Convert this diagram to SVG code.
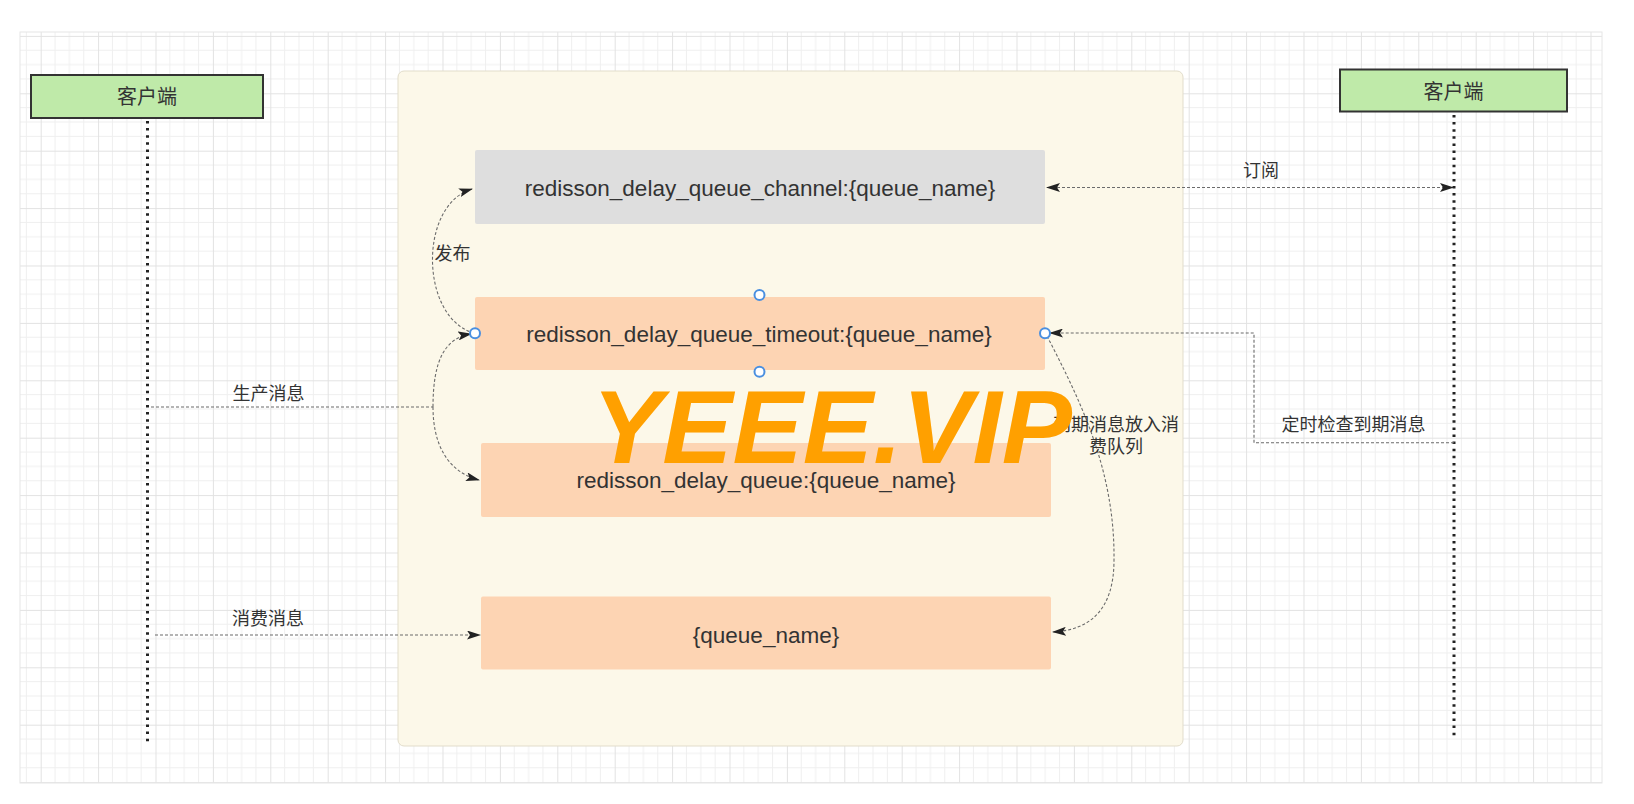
<svg xmlns="http://www.w3.org/2000/svg" width="1634" height="804" viewBox="0 0 1634 804">
<style>
.t{font-family:"Liberation Sans","Noto Sans CJK SC",Arial,sans-serif;fill:#333}
.box{font-size:22.5px;text-anchor:middle}
.lbl{font-size:18px;text-anchor:middle}
.cl{font-size:20px;text-anchor:middle}
.conn{fill:none;stroke:#6b6b6b;stroke-width:1.1;stroke-dasharray:3 2}
.life{stroke:#222;stroke-width:3;stroke-dasharray:2.5 4.6;fill:none}
.client{fill:#bfeaa9;stroke:#333;stroke-width:2}
.peach{fill:#fdd4b3}
.grey{fill:#dedede}
.pt{fill:#fff;stroke:#4a8fe0;stroke-width:2}
</style>
<defs>
<pattern id="grid" patternUnits="userSpaceOnUse" x="40.7" y="35.9" width="57.4" height="57.4">
<path d="M14.35 0V57.4M28.7 0V57.4M43.05 0V57.4M0 14.35H57.4M0 28.7H57.4M0 43.05H57.4" stroke="#efefef" stroke-width="1" fill="none"/>
<path d="M0.5 0V57.4M0 0.5H57.4" stroke="#e2e2e2" stroke-width="1" fill="none"/>
</pattern>
<marker id="arr" viewBox="0 0 14 9" refX="13" refY="4.5" markerWidth="14" markerHeight="9" markerUnits="userSpaceOnUse" orient="auto-start-reverse">
<path d="M0,0 L14,4.5 L0,9 L3,4.5 z" fill="#222"/>
</marker>
</defs>
<rect width="1634" height="804" fill="#fff"/>
<rect x="20" y="32" width="1582" height="751" fill="url(#grid)" stroke="#e6e6e6" stroke-width="1"/>

<g id="container">
<rect x="398" y="71" width="785" height="675" rx="6" fill="#fcf8e9" stroke="#e2ddcb" stroke-width="1"/>
</g>

<g id="client-left">
<rect class="client" x="31" y="75" width="232" height="43"/>
<text class="t cl" x="147" y="104">客户端</text>
<line class="life" x1="147.5" y1="121" x2="147.5" y2="745"/>
</g>

<g id="client-right">
<rect class="client" x="1340" y="69.5" width="227" height="42"/>
<text class="t cl" x="1453.5" y="98.5">客户端</text>
<line class="life" x1="1454" y1="115" x2="1454" y2="739"/>
</g>

<g id="channel">
<rect class="grey" x="475" y="150" width="570" height="74" rx="2"/>
<text class="t box" x="760" y="196">redisson_delay_queue_channel:{queue_name}</text>
</g>

<g id="timeout">
<rect class="peach" x="475" y="297" width="570" height="73" rx="2"/>
<text class="t box" x="759" y="342">redisson_delay_queue_timeout:{queue_name}</text>
</g>

<g id="delay-queue">
<rect class="peach" x="481" y="443" width="570" height="74" rx="2"/>
<text class="t box" x="766" y="488">redisson_delay_queue:{queue_name}</text>
</g>

<g id="queue">
<rect class="peach" x="481" y="596.5" width="570" height="73" rx="2"/>
<text class="t box" x="766" y="643">{queue_name}</text>
</g>

<g id="connectors">
<path class="conn" d="M474,333 C420,318 418,205 472,189" marker-end="url(#arr)"/>
<path class="conn" d="M151,407 H433"/>
<path class="conn" d="M433,407 C433,360 445,338 471,334" marker-end="url(#arr)"/>
<path class="conn" d="M433,407 C433,445 448,472 479,480" marker-end="url(#arr)"/>
<path class="conn" d="M155,635 H480" marker-end="url(#arr)"/>
<path class="conn" d="M1047,187.5 H1453" marker-start="url(#arr)" marker-end="url(#arr)"/>
<path class="conn" d="M1454,442.7 H1254 V333 H1050" marker-end="url(#arr)"/>
<path class="conn" d="M1047,336 C1080,400 1115,470 1114,560 C1114,610 1090,630 1053,632" marker-end="url(#arr)"/>
<text class="t lbl" x="452.5" y="259.5">发布</text>
<text class="t lbl" x="268.5" y="399.5">生产消息</text>
<text class="t lbl" x="268" y="624.5">消费消息</text>
<text class="t lbl" x="1261" y="176.5">订阅</text>
<text class="t lbl" x="1353.5" y="430.5">定时检查到期消息</text>
<text class="t lbl" x="1116" y="430.5">到期消息放入消</text>
<text class="t lbl" x="1116" y="453">费队列</text>
</g>

<g id="anchors">
<circle class="pt" cx="475" cy="333.3" r="5"/>
<circle class="pt" cx="1045" cy="333.3" r="5"/>
<circle class="pt" cx="759.5" cy="295" r="5"/>
<circle class="pt" cx="759.5" cy="371.7" r="5"/>
</g>

<g id="watermark">
<text x="592" y="463" font-family="'Liberation Sans',Arial,sans-serif" font-size="104" font-weight="bold" font-style="italic" fill="#ffa000" textLength="480" lengthAdjust="spacingAndGlyphs">YEEE.VIP</text>
</g>
</svg>
